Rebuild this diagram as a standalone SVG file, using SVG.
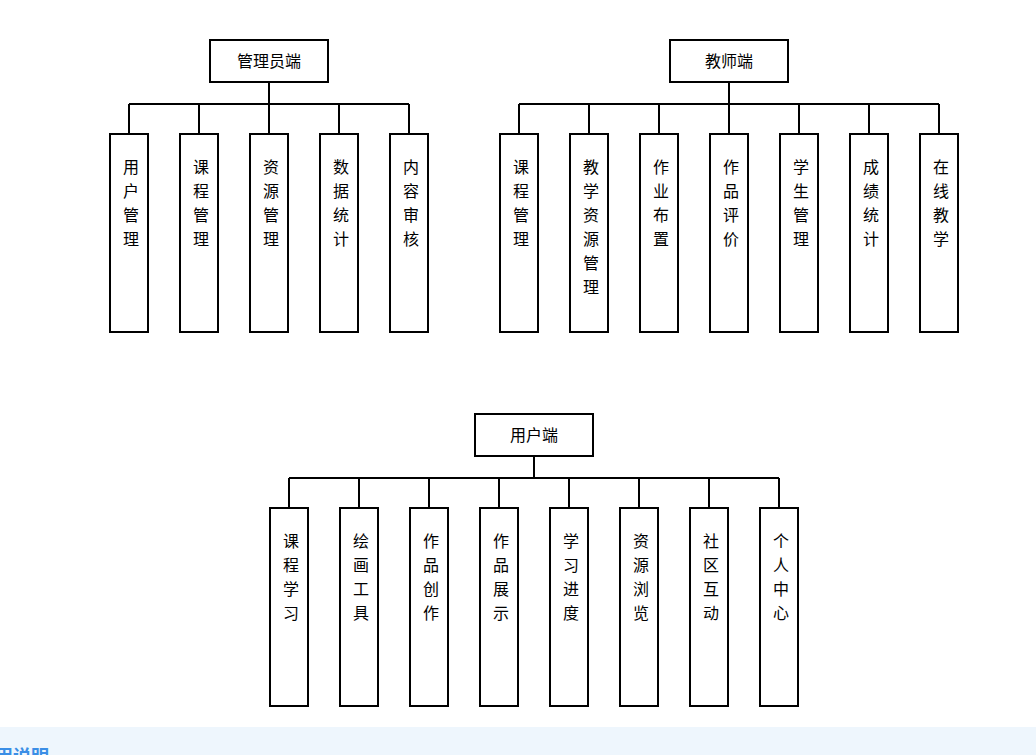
<svg xmlns="http://www.w3.org/2000/svg" width="1036" height="755" viewBox="0 0 1036 755">
<style>
.b{fill:#fff;stroke:#000;stroke-width:2}
.c{fill:none;stroke:#000;stroke-width:2}
text{font-family:"Microsoft YaHei","Noto Sans CJK SC",sans-serif;font-size:16px;fill:#000;text-anchor:middle}
.h{font-size:18px;font-weight:bold;fill:#3a8ee6;text-anchor:start}
</style>
<rect x="0" y="0" width="1036" height="755" fill="#fff"/>
<g id="connectors">
<path class="c" d="M269 82V104M129 104H409M129 104V134M199 104V134M269 104V134M339 104V134M409 104V134"/>
<path class="c" d="M729 82V104M519 104H939M519 104V134M589 104V134M659 104V134M729 104V134M799 104V134M869 104V134M939 104V134"/>
<path class="c" d="M534 456V478M289 478H779M289 478V508M359 478V508M429 478V508M499 478V508M569 478V508M639 478V508M709 478V508M779 478V508"/>
</g>
<g id="admin"><rect class="b" x="210" y="40" width="118" height="42"/><text x="269" y="67">管理员端</text></g>
<g id="a1"><rect class="b" x="110" y="134" width="38" height="198"/><text x="131" y="173"><tspan x="131">用</tspan><tspan x="131" dy="24">户</tspan><tspan x="131" dy="24">管</tspan><tspan x="131" dy="24">理</tspan></text></g>
<g id="a2"><rect class="b" x="180" y="134" width="38" height="198"/><text x="201" y="173"><tspan x="201">课</tspan><tspan x="201" dy="24">程</tspan><tspan x="201" dy="24">管</tspan><tspan x="201" dy="24">理</tspan></text></g>
<g id="a3"><rect class="b" x="250" y="134" width="38" height="198"/><text x="271" y="173"><tspan x="271">资</tspan><tspan x="271" dy="24">源</tspan><tspan x="271" dy="24">管</tspan><tspan x="271" dy="24">理</tspan></text></g>
<g id="a4"><rect class="b" x="320" y="134" width="38" height="198"/><text x="341" y="173"><tspan x="341">数</tspan><tspan x="341" dy="24">据</tspan><tspan x="341" dy="24">统</tspan><tspan x="341" dy="24">计</tspan></text></g>
<g id="a5"><rect class="b" x="390" y="134" width="38" height="198"/><text x="411" y="173"><tspan x="411">内</tspan><tspan x="411" dy="24">容</tspan><tspan x="411" dy="24">审</tspan><tspan x="411" dy="24">核</tspan></text></g>
<g id="teacher"><rect class="b" x="670" y="40" width="118" height="42"/><text x="729" y="67">教师端</text></g>
<g id="t1"><rect class="b" x="500" y="134" width="38" height="198"/><text x="521" y="173"><tspan x="521">课</tspan><tspan x="521" dy="24">程</tspan><tspan x="521" dy="24">管</tspan><tspan x="521" dy="24">理</tspan></text></g>
<g id="t2"><rect class="b" x="570" y="134" width="38" height="198"/><text x="591" y="173"><tspan x="591">教</tspan><tspan x="591" dy="24">学</tspan><tspan x="591" dy="24">资</tspan><tspan x="591" dy="24">源</tspan><tspan x="591" dy="24">管</tspan><tspan x="591" dy="24">理</tspan></text></g>
<g id="t3"><rect class="b" x="640" y="134" width="38" height="198"/><text x="661" y="173"><tspan x="661">作</tspan><tspan x="661" dy="24">业</tspan><tspan x="661" dy="24">布</tspan><tspan x="661" dy="24">置</tspan></text></g>
<g id="t4"><rect class="b" x="710" y="134" width="38" height="198"/><text x="731" y="173"><tspan x="731">作</tspan><tspan x="731" dy="24">品</tspan><tspan x="731" dy="24">评</tspan><tspan x="731" dy="24">价</tspan></text></g>
<g id="t5"><rect class="b" x="780" y="134" width="38" height="198"/><text x="801" y="173"><tspan x="801">学</tspan><tspan x="801" dy="24">生</tspan><tspan x="801" dy="24">管</tspan><tspan x="801" dy="24">理</tspan></text></g>
<g id="t6"><rect class="b" x="850" y="134" width="38" height="198"/><text x="871" y="173"><tspan x="871">成</tspan><tspan x="871" dy="24">绩</tspan><tspan x="871" dy="24">统</tspan><tspan x="871" dy="24">计</tspan></text></g>
<g id="t7"><rect class="b" x="920" y="134" width="38" height="198"/><text x="941" y="173"><tspan x="941">在</tspan><tspan x="941" dy="24">线</tspan><tspan x="941" dy="24">教</tspan><tspan x="941" dy="24">学</tspan></text></g>
<g id="user"><rect class="b" x="475" y="414" width="118" height="42"/><text x="534" y="441">用户端</text></g>
<g id="u1"><rect class="b" x="270" y="508" width="38" height="198"/><text x="291" y="547"><tspan x="291">课</tspan><tspan x="291" dy="24">程</tspan><tspan x="291" dy="24">学</tspan><tspan x="291" dy="24">习</tspan></text></g>
<g id="u2"><rect class="b" x="340" y="508" width="38" height="198"/><text x="361" y="547"><tspan x="361">绘</tspan><tspan x="361" dy="24">画</tspan><tspan x="361" dy="24">工</tspan><tspan x="361" dy="24">具</tspan></text></g>
<g id="u3"><rect class="b" x="410" y="508" width="38" height="198"/><text x="431" y="547"><tspan x="431">作</tspan><tspan x="431" dy="24">品</tspan><tspan x="431" dy="24">创</tspan><tspan x="431" dy="24">作</tspan></text></g>
<g id="u4"><rect class="b" x="480" y="508" width="38" height="198"/><text x="501" y="547"><tspan x="501">作</tspan><tspan x="501" dy="24">品</tspan><tspan x="501" dy="24">展</tspan><tspan x="501" dy="24">示</tspan></text></g>
<g id="u5"><rect class="b" x="550" y="508" width="38" height="198"/><text x="571" y="547"><tspan x="571">学</tspan><tspan x="571" dy="24">习</tspan><tspan x="571" dy="24">进</tspan><tspan x="571" dy="24">度</tspan></text></g>
<g id="u6"><rect class="b" x="620" y="508" width="38" height="198"/><text x="641" y="547"><tspan x="641">资</tspan><tspan x="641" dy="24">源</tspan><tspan x="641" dy="24">浏</tspan><tspan x="641" dy="24">览</tspan></text></g>
<g id="u7"><rect class="b" x="690" y="508" width="38" height="198"/><text x="711" y="547"><tspan x="711">社</tspan><tspan x="711" dy="24">区</tspan><tspan x="711" dy="24">互</tspan><tspan x="711" dy="24">动</tspan></text></g>
<g id="u8"><rect class="b" x="760" y="508" width="38" height="198"/><text x="781" y="547"><tspan x="781">个</tspan><tspan x="781" dy="24">人</tspan><tspan x="781" dy="24">中</tspan><tspan x="781" dy="24">心</tspan></text></g>
<rect x="0" y="727" width="1036" height="28" fill="#eef6fd"/>
<text class="h" x="-5" y="763">用说明</text>
</svg>
